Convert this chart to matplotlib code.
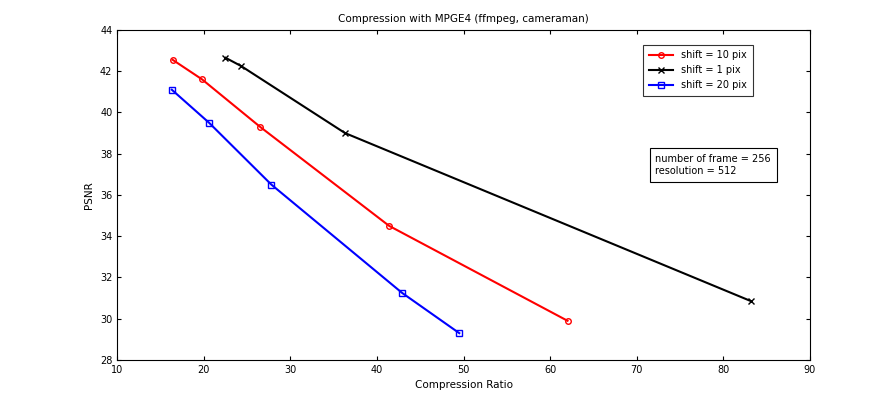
import matplotlib
matplotlib.use("Agg")
import matplotlib.pyplot as plt

# data
cr_10 = [16.4, 19.8, 26.5, 41.4, 62.0]
psnr_10 = [42.55, 41.6, 39.3, 34.5, 29.9]
cr_1 = [22.5, 24.3, 36.3, 83.2]
psnr_1 = [42.65, 42.25, 39.0, 30.85]
cr_20 = [16.3, 20.6, 27.8, 42.9, 49.5]
psnr_20 = [41.1, 39.5, 36.5, 31.25, 29.3]

plt.rcParams['font.family'] = ['DejaVu Sans']
plt.rcParams['font.size'] = 7

fig = plt.figure(figsize=(8.95, 4.04), dpi=100)
ax = fig.add_axes([0.131, 0.109, 0.774, 0.817])

ax.plot(cr_10, psnr_10, color='red', marker='o', ms=4, mfc='none', lw=1.5, label='shift = 10 pix')
ax.plot(cr_1, psnr_1, color='black', marker='x', ms=4, lw=1.5, label='shift = 1 pix')
ax.plot(cr_20, psnr_20, color='blue', marker='s', ms=4, mfc='none', lw=1.5, label='shift = 20 pix')

ax.set_xlim(10, 90)
ax.set_ylim(28, 44)
ax.set_xticks(range(10, 91, 10))
ax.set_yticks(range(28, 45, 2))
ax.tick_params(direction='in', top=True, right=True, length=3, labelsize=7)
ax.set_xlabel('Compression Ratio', fontsize=7.5)
ax.set_ylabel('PSNR', fontsize=7.5)
ax.set_title('Compression with MPGE4 (ffmpeg, cameraman)', fontsize=7.5)

leg = ax.legend(loc='upper left', bbox_to_anchor=(0.752, 0.97), fancybox=False,
                edgecolor='black', fontsize=7, handlelength=2.5, borderpad=0.6)
leg.get_frame().set_linewidth(0.8)

ax.text(0.777, 0.625, 'number of frame = 256\nresolution = 512', transform=ax.transAxes,
        fontsize=7, va='top', ha='left', linespacing=1.3,
        bbox=dict(boxstyle='square,pad=0.6', fc='white', ec='black', lw=0.8))

fig.savefig('out.png', dpi=100)
